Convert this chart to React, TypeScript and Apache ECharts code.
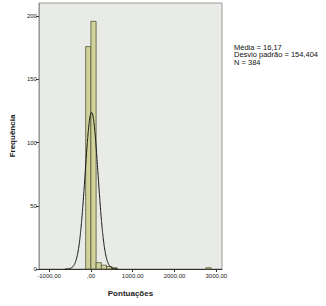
import React, { useEffect, useRef } from "react";
import * as echarts from "echarts";

const binStarts = [-125, 0, 125, 250, 375, 500, 2750];
const binCounts = [176, 196, 5, 3, 2, 1, 1];
const binWidth = 125;
const meanVal = 16.17;
const sdVal = 154.404;
const nVal = 384;
const xTicks = [-1000, 0, 1000, 2000, 3000];
const yTicks = [0, 50, 100, 150, 200];
const statLines = ["Média = 16,17", "Desvio padrão = 154,404", "N = 384"];

const FONT = "Liberation Sans, Arial, sans-serif";

export default function App() {
  const ref = useRef<HTMLDivElement>(null);
  useEffect(() => {
    if (!ref.current) return;
    const chart = echarts.init(ref.current, null, { renderer: "svg" });
    const bars = binStarts.map((s, i) => [s, s + binWidth, binCounts[i]]);
    const curve: number[][] = [];
    for (let x = -620; x <= 660; x += 10) {
      const z = (x - meanVal) / sdVal;
      curve.push([x, (nVal * binWidth) / (sdVal * Math.sqrt(2 * Math.PI)) * Math.exp(-0.5 * z * z)]);
    }
    chart.setOption({
      animation: false,
      backgroundColor: "#ffffff",
      grid: {
        left: 31,
        right: 104,
        top: 3,
        bottom: 37,
        show: true,
        backgroundColor: "#e9ece6",
        borderColor: "#9a9a9a",
        borderWidth: 1,
      },
      xAxis: {
        type: "value",
        min: -1243,
        max: 3135,
        splitLine: { show: false },
        axisLine: { show: true, onZero: false, lineStyle: { color: "#333", width: 1 } },
        axisTick: { show: true, length: 3, lineStyle: { color: "#333" }, customValues: xTicks },
        axisLabel: {
          customValues: xTicks,
          fontSize: 6,
          fontFamily: FONT,
          color: "#222",
          margin: 4,
          formatter: (v: number) => (v === 0 ? ",00" : v.toFixed(2).replace(".", ",")),
        },
        name: "Pontuações",
        nameLocation: "middle",
        nameGap: 20,
        nameTextStyle: { fontSize: 8, fontWeight: "bold", fontFamily: FONT, color: "#222" },
      },
      yAxis: {
        type: "value",
        position: "left",
        min: 0,
        max: 210.5,
        splitLine: { show: false },
        axisLine: { show: true, onZero: false, lineStyle: { color: "#9a9a9a", width: 1 } },
        axisTick: { show: true, inside: false, length: 3, lineStyle: { color: "#333" }, customValues: yTicks },
        axisLabel: {
          inside: false,
          customValues: yTicks,
          fontSize: 6,
          fontFamily: FONT,
          color: "#222",
          margin: 2,
          align: "right",
        },
        name: "Frequência",
        nameLocation: "middle",
        nameGap: 18,
        nameTextStyle: { fontSize: 8, fontWeight: "bold", fontFamily: FONT, color: "#222" },
      },
      graphic: statLines.map((t, i) => ({
        type: "text",
        left: 234,
        top: 43 + i * 7.6,
        style: { text: t, fontSize: 7.5, fontFamily: FONT, fill: "#111" },
      })),
      series: [
        {
          type: "custom",
          data: bars,
          encode: { x: [0, 1], y: 2 },
          renderItem: (params: any, api: any) => {
            const p0 = api.coord([api.value(0), api.value(2)]);
            const p1 = api.coord([api.value(1), 0]);
            return {
              type: "rect",
              shape: { x: p0[0], y: p0[1], width: p1[0] - p0[0], height: p1[1] - p0[1] },
              style: { fill: "#cfd39a", stroke: "#55553c", lineWidth: 0.8 },
            };
          },
          z: 2,
        },
        {
          type: "line",
          data: curve,
          showSymbol: false,
          symbol: "none",
          smooth: true,
          lineStyle: { color: "#111", width: 1 },
          z: 3,
        },
      ],
    });
    return () => chart.dispose();
  }, []);
  return (
    <div
      ref={ref}
      style={{ position: "absolute", left: 0, top: 0, width: 326, height: 306 }}
    />
  );
}
